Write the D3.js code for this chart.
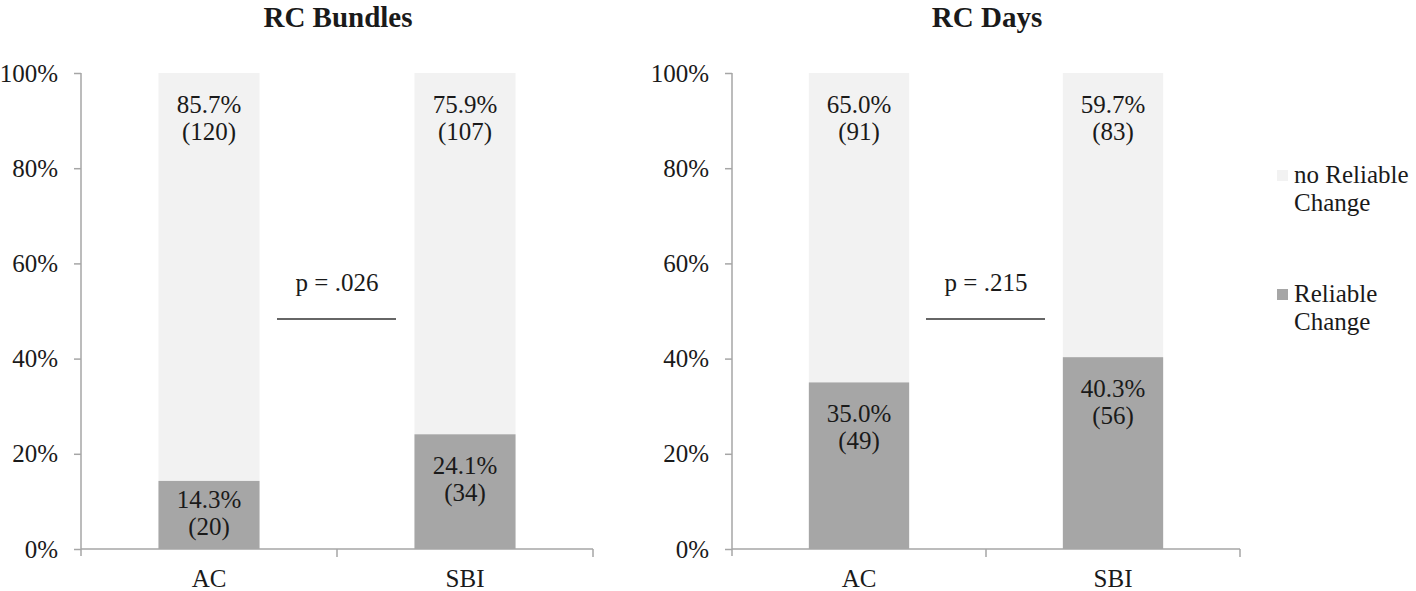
<!DOCTYPE html>
<html>
<head>
<meta charset="utf-8">
<script src="https://cdn.jsdelivr.net/npm/d3@7"></script>
<style>
  html, body { margin: 0; padding: 0; background: #fff; }
  svg { display: block; }
</style>
</head>
<body>
<svg id="chart" width="1416" height="591"></svg>
<script>
// ---- data ----
const categories = ["AC", "SBI"];
const panelTitles = ["RC Bundles", "RC Days"];
const reliablePct = [[14.3, 24.1], [35.0, 40.3]];
const reliableN = [[20, 34], [49, 56]];
const noReliablePct = [[85.7, 75.9], [65.0, 59.7]];
const noReliableN = [[120, 107], [91, 83]];
const pValues = ["p = .026", "p = .215"];
const yTicks = [0, 0.2, 0.4, 0.6, 0.8, 1.0];
const legendLabels = [["no Reliable", "Change"], ["Reliable", "Change"]];

// ---- styles ----
const colLight = "#f2f2f2", colDark = "#a6a6a6", axisCol = "#a6a6a6";
const fs = 25;
const FONT = "'Liberation Serif', 'Times New Roman', Times, serif";
const txtCol = "#1a1a1a";

const svg = d3.select("#chart");
function T(sel) {
  return sel.style("font-family", FONT).style("font-size", fs + "px").attr("fill", txtCol);
}
const panels = [
  { x0: 81, x1: 593, title: panelTitles[0] },
  { x0: 732, x1: 1240, title: panelTitles[1] }
];
const y = d3.scaleLinear().domain([0, 1]).range([549, 73]);

panels.forEach((p, i) => {
  const g = svg.append("g");
  const x = d3.scaleBand().domain(categories).range([p.x0, p.x1])
    .paddingInner(0.605).paddingOuter(0.3025);

  // title
  T(g.append("text")).attr("x", (p.x0 + p.x1) / 2 + 1).attr("y", 27)
    .attr("text-anchor", "middle").style("font-weight", "bold")
    .style("font-size", "29px").text(p.title);

  // bars
  categories.forEach((c, j) => {
    const r = reliablePct[i][j] / 100;
    const nr = noReliablePct[i][j] / 100;
    g.append("rect").attr("x", x(c)).attr("width", x.bandwidth())
      .attr("y", y(r + nr)).attr("height", y(r) - y(r + nr)).attr("fill", colLight);
    g.append("rect").attr("x", x(c)).attr("width", x.bandwidth())
      .attr("y", y(r)).attr("height", y(0) - y(r)).attr("fill", colDark);

    const cx = x(c) + x.bandwidth() / 2;
    const topB = y(r + nr) + 40;
    T(g.append("text")).attr("x", cx).attr("y", topB).attr("text-anchor", "middle")
      .text(noReliablePct[i][j].toFixed(1) + "%");
    T(g.append("text")).attr("x", cx).attr("y", topB + 27).attr("text-anchor", "middle")
      .text("(" + noReliableN[i][j] + ")");
    let b1 = y(r) + 40;
    if (b1 + 27 > y(0) - 14) b1 = y(0) - 14 - 27;
    T(g.append("text")).attr("x", cx).attr("y", b1).attr("text-anchor", "middle")
      .text(reliablePct[i][j].toFixed(1) + "%");
    T(g.append("text")).attr("x", cx).attr("y", b1 + 27).attr("text-anchor", "middle")
      .text("(" + reliableN[i][j] + ")");
  });

  // y axis
  const yAxis = g.append("g").attr("transform", `translate(${p.x0},0)`)
    .call(d3.axisLeft(y).tickValues(yTicks).tickFormat(d3.format(".0%"))
      .tickSizeInner(7).tickSizeOuter(0).tickPadding(16));
  yAxis.attr("font-family", null).attr("font-size", null);
  yAxis.select(".domain").remove();
  yAxis.append("line").attr("x1", 0).attr("x2", 0).attr("y1", y(1)).attr("y2", y(0) + 7)
    .attr("stroke", axisCol).attr("stroke-width", 1.5);
  yAxis.selectAll(".tick line").attr("stroke", axisCol).attr("stroke-width", 1.5);
  T(yAxis.selectAll(".tick text"));

  // x axis
  const xg = g.append("g");
  xg.append("line").attr("x1", p.x0).attr("x2", p.x1).attr("y1", y(0)).attr("y2", y(0))
    .attr("stroke", axisCol).attr("stroke-width", 1.5);
  const bounds = [p.x0, (p.x0 + p.x1) / 2, p.x1];
  bounds.slice(1).forEach(bx => {
    xg.append("line").attr("x1", bx).attr("x2", bx).attr("y1", y(0)).attr("y2", y(0) + 8)
      .attr("stroke", axisCol).attr("stroke-width", 1.5);
  });
  categories.forEach(c => {
    T(xg.append("text")).attr("x", x(c) + x.bandwidth() / 2).attr("y", 587)
      .attr("text-anchor", "middle").text(c);
  });

  // p-value annotation
  const mid = (p.x0 + p.x1) / 2;
  T(g.append("text")).attr("x", mid).attr("y", y(0.542)).attr("text-anchor", "middle")
    .text(pValues[i]);
  g.append("line").attr("x1", mid - 60).attr("x2", mid + 59)
    .attr("y1", y(0.483)).attr("y2", y(0.483))
    .attr("stroke", "#333").attr("stroke-width", 1.5);
});

// legend
const legendColors = [colLight, colDark];
const legendY = [183, 302];
legendLabels.forEach((lines, k) => {
  svg.append("rect").attr("x", 1277).attr("y", legendY[k] - 13).attr("width", 11).attr("height", 11)
    .attr("fill", legendColors[k]);
  lines.forEach((t, li) => {
    T(svg.append("text")).attr("x", 1294).attr("y", legendY[k] + li * 28).text(t);
  });
});
</script>
</body>
</html>
